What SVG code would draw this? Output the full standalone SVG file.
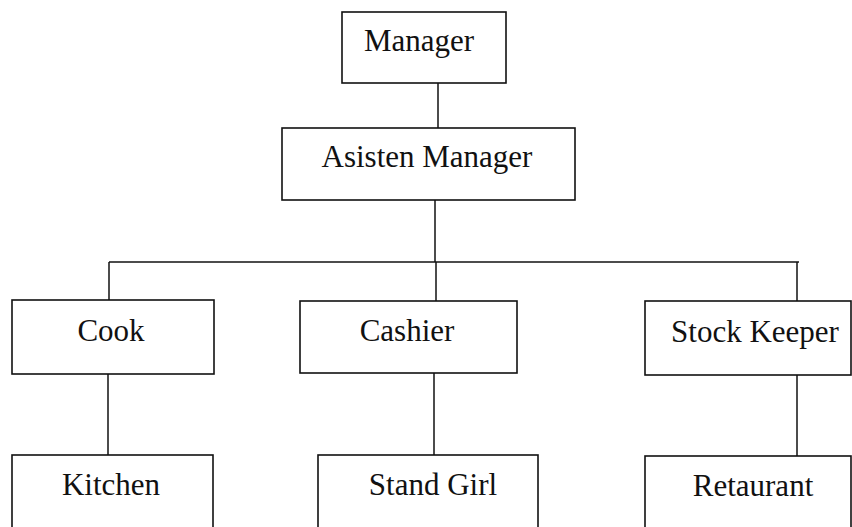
<svg xmlns="http://www.w3.org/2000/svg" width="852" height="527" viewBox="0 0 852 527">
  <style>
    .box { fill: #ffffff; stroke: #111111; stroke-width: 1.6; }
    .lbl { font-family: 'Liberation Serif', 'Times New Roman', 'DejaVu Serif', serif; font-size: 31px; fill: #111111; text-anchor: middle; }
    .conn line { stroke: #111111; stroke-width: 1.5; }
  </style>
  <rect x="0" y="0" width="852" height="527" fill="#ffffff"/>
  <g id="connectors" class="conn">
    <line x1="438" y1="83" x2="438" y2="128"/>
    <line x1="435" y1="200" x2="435" y2="262"/>
    <line x1="109" y1="262" x2="799" y2="262"/>
    <line x1="109" y1="262" x2="109" y2="300"/>
    <line x1="436" y1="262" x2="436" y2="301"/>
    <line x1="797" y1="262" x2="797" y2="301"/>
    <line x1="108" y1="374" x2="108" y2="455"/>
    <line x1="434" y1="373" x2="434" y2="455"/>
    <line x1="797" y1="375" x2="797" y2="456"/>
  </g>
  <g id="manager">
    <rect class="box" x="342" y="12" width="164" height="71"/>
    <text class="lbl" x="419" y="51">Manager</text>
  </g>
  <g id="asisten-manager">
    <rect class="box" x="282" y="128" width="293" height="72"/>
    <text class="lbl" x="427" y="167">Asisten Manager</text>
  </g>
  <g id="cook">
    <rect class="box" x="12" y="300" width="202" height="74"/>
    <text class="lbl" x="111" y="341">Cook</text>
  </g>
  <g id="cashier">
    <rect class="box" x="300" y="301" width="217" height="72"/>
    <text class="lbl" x="407" y="341">Cashier</text>
  </g>
  <g id="stock-keeper">
    <rect class="box" x="645" y="301" width="206" height="74"/>
    <text class="lbl" x="755" y="342">Stock Keeper</text>
  </g>
  <g id="kitchen">
    <rect class="box" x="12" y="455" width="201" height="90"/>
    <text class="lbl" x="111" y="495">Kitchen</text>
  </g>
  <g id="stand-girl">
    <rect class="box" x="318" y="455" width="220" height="90"/>
    <text class="lbl" x="433" y="495">Stand Girl</text>
  </g>
  <g id="retaurant">
    <rect class="box" x="645" y="456" width="206" height="90"/>
    <text class="lbl" x="753" y="496">Retaurant</text>
  </g>
</svg>
